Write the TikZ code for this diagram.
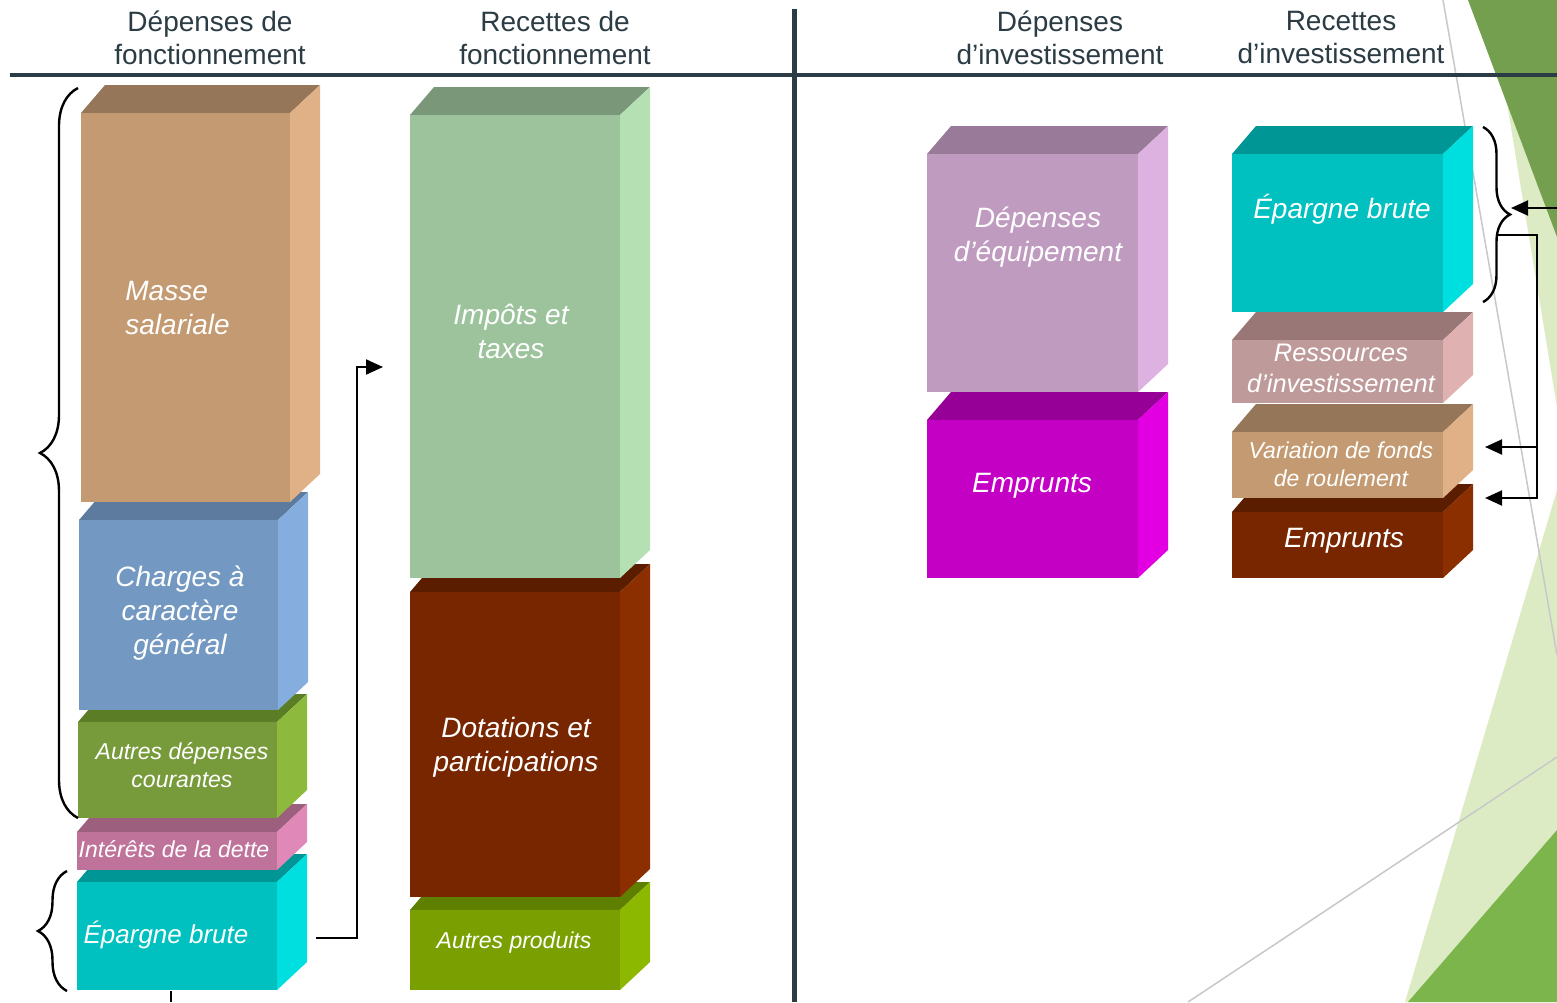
\documentclass[tikz,border=0pt]{standalone}
\usepackage{fontspec}
\setmainfont{Liberation Sans}
\usetikzlibrary{arrows.meta,decorations.pathreplacing}
\definecolor{hdr}{HTML}{2C3C44}
\definecolor{gDark}{HTML}{749F4F}
\definecolor{gLight}{HTML}{DDEBC4}
\definecolor{gMid}{HTML}{7BB54B}
\definecolor{thinGrey}{HTML}{C8C8C8}
% box colours: F front, T top, S side
\definecolor{msF}{HTML}{C39A71}\definecolor{msT}{HTML}{957658}\definecolor{msS}{HTML}{E0B186}
\definecolor{chF}{HTML}{7399C3}\definecolor{chT}{HTML}{5D7B9E}\definecolor{chS}{HTML}{85AEDF}
\definecolor{adF}{HTML}{779B3A}\definecolor{adT}{HTML}{5A7D26}\definecolor{adS}{HTML}{8DBA3D}
\definecolor{itF}{HTML}{C0739A}\definecolor{itT}{HTML}{9C5F7E}\definecolor{itS}{HTML}{E089B8}
\definecolor{ebF}{HTML}{00C0C0}\definecolor{ebT}{HTML}{009696}\definecolor{ebS}{HTML}{00DFDF}
\definecolor{imF}{HTML}{9CC39C}\definecolor{imT}{HTML}{7A977A}\definecolor{imS}{HTML}{B4E0B4}
\definecolor{dtF}{HTML}{772600}\definecolor{dtT}{HTML}{5B1D00}\definecolor{dtS}{HTML}{8B2E00}
\definecolor{apF}{HTML}{79A000}\definecolor{apT}{HTML}{5F7F00}\definecolor{apS}{HTML}{8DB800}
\definecolor{deF}{HTML}{C09BC0}\definecolor{deT}{HTML}{9A7A99}\definecolor{deS}{HTML}{DDB2E0}
\definecolor{emF}{HTML}{C300C3}\definecolor{emT}{HTML}{970097}\definecolor{emS}{HTML}{E200E2}
\definecolor{rsF}{HTML}{BF9A9A}\definecolor{rsT}{HTML}{997777}\definecolor{rsS}{HTML}{DFB1B1}
\newcommand\cube[5]{%
 \fill[#5T] (#1,#2) -- (#1+24,#2-28) -- (#3+30,#2-28) -- (#3,#2) -- cycle;
 \fill[#5S] (#3,#2) -- (#3+30,#2-28) -- (#3+30,#4-28) -- (#3,#4) -- cycle;
 \fill[#5F] (#1,#2) rectangle (#3,#4);}
\begin{document}
\begin{tikzpicture}[x=0.5pt,y=-0.5pt,
 lbl/.style={text=white,font=\itshape\fontsize{14}{17}\selectfont,align=center,inner sep=0pt},
 lbls/.style={text=white,font=\itshape\fontsize{11.5}{14}\selectfont,align=center,inner sep=0pt},
 hd/.style={text=hdr,font=\fontsize{14}{16.5}\selectfont,align=center,inner sep=0pt},
 arr/.style={line width=1pt,-{Triangle[length=8.5pt,width=7.5pt]}},
 conn/.style={line width=1pt},
 brc/.style={decorate,decoration={brace,amplitude=#1},line width=1.2pt}]
\useasboundingbox (0,0) rectangle (1557,1002);
\fill[white] (0,0) rectangle (1557,1002);
% background decoration
\fill[gLight] (1490,0) -- (1557,0) -- (1557,407) -- cycle;
\fill[gDark] (1468,0) -- (1557,0) -- (1557,237) -- cycle;
\fill[gLight] (1405,1002) -- (1557,490) -- (1557,1002) -- cycle;
\fill[gMid] (1408,1002) -- (1557,830) -- (1557,1002) -- cycle;
\draw[thinGrey,line width=0.75pt] (1443,0) -- (1557,655);
\draw[thinGrey,line width=0.75pt] (1188,1002) -- (1557,757);
% header rules
\draw[hdr,line width=2.3pt] (10,75) -- (1557,75);
\draw[hdr,line width=2.5pt] (794.5,9) -- (794.5,1002);
% headers
\node[hd] (h1) at (210,38) {Dépenses de\\fonctionnement};
\node[hd] (h2) at (555,38) {Recettes de\\fonctionnement};
\node[hd] (h3) at (1060,38) {Dépenses\\d’investissement};
\node[hd] (h4) at (1341,38) {Recettes\\d’investissement};
% left column
\cube{77}{882}{277}{990}{eb}
\cube{77}{832}{277}{870}{it}
\cube{78}{722}{277}{818}{ad}
\cube{79}{520}{278}{710}{ch}
\cube{81}{113}{290}{502}{ms}
% middle column
\cube{410}{910}{620}{990}{ap}
\cube{410}{592}{620}{897}{dt}
\cube{410}{115}{620}{578}{im}
% investment expenses
\cube{927}{420}{1138}{578}{em}
\cube{927}{154}{1138}{392}{de}
% investment revenues
\cube{1232}{512}{1443}{578}{dt}
\cube{1232}{432}{1443}{498}{ms}
\cube{1232}{340}{1443}{403}{rs}
\cube{1232}{154}{1443}{312}{eb}
% labels
\node[lbl,align=left,anchor=west] (tms) at (125,308) {Masse\\salariale};
\node[lbl] (tch) at (180,613) {Charges à\\caractère\\général};
\node[lbls] (tad) at (182,765) {Autres dépenses\\courantes};
\node[lbls] (tit) at (174,849) {Intérêts de la dette};
\node[lbl,font=\itshape\fontsize{13}{16}\selectfont] (teb) at (166,935) {Épargne brute};
\node[lbl] (tim) at (511,331) {Impôts et\\taxes};
\node[lbl] (tdt) at (516,747) {Dotations et\\participations};
\node[lbls] (tap) at (514,943) {Autres produits};
\node[lbl] (tde) at (1038,237) {Dépenses\\d’équipement};
\node[lbl] (tem) at (1032,486) {Emprunts};
\node[lbl] (teb2) at (1342,209) {Épargne brute};
\node[lbl,font=\itshape\fontsize{12.7}{15.5}\selectfont] (trs) at (1341,368) {Ressources\\d’investissement};
\node[lbls] (tva) at (1341,464) {Variation de fonds\\de roulement};
\node[lbl] (tem2) at (1344,541) {Emprunts};
% braces
\draw[brc=19pt] (78,818) -- (78,88);
\draw[brc=14.5pt] (67,991) -- (67,871);
\draw[brc=13.5pt] (1483,127) -- (1483,302);
% connectors
\coordinate (a1) at (316,938);
\coordinate (a2) at (383,367);
\draw[arr] (a1) -- (357,938) |- (a2);
\coordinate (b1) at (171,991);
\coordinate (b2) at (171,1002);
\draw[conn] (b1) -- (b2);
\coordinate (r0) at (1557,208);
\coordinate (r1) at (1511,208);
\draw[arr] (r0) -- (r1);
\coordinate (r2) at (1498,235);
\coordinate (r3) at (1485,498);
\coordinate (r4) at (1485,447);
\draw[arr] (r2) -- (1537,235) |- (r3);
\draw[arr] (1537,447) -- (r4);
\end{tikzpicture}
\end{document}
